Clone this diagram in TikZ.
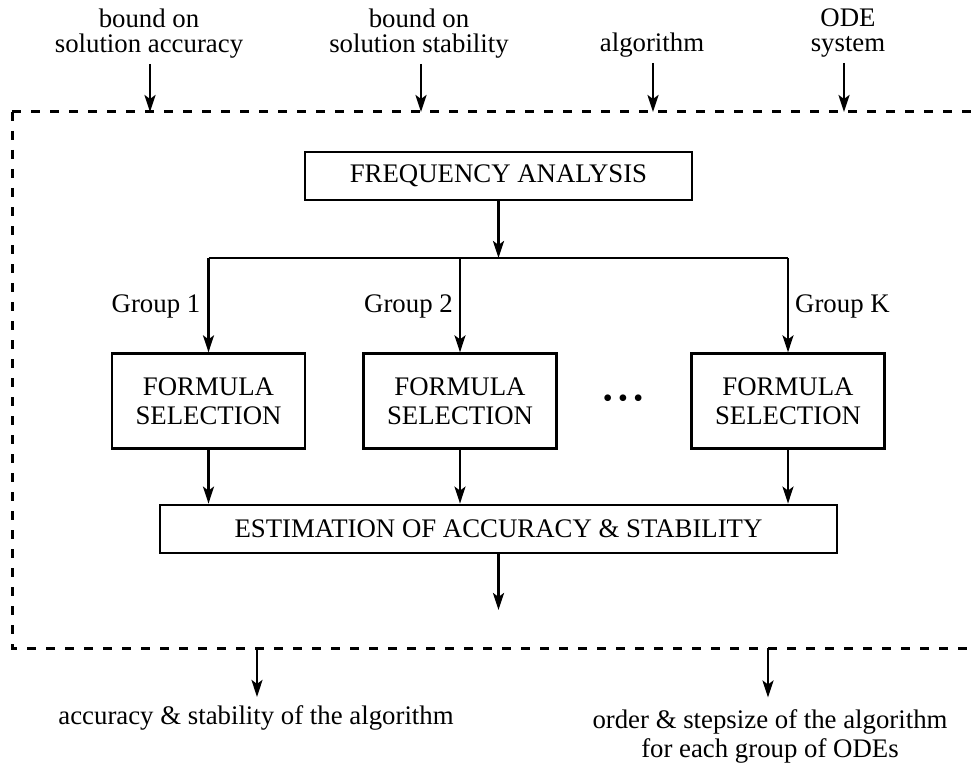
\documentclass[tikz,border=0pt]{standalone}
\usepackage{fontspec}
\setmainfont{Liberation Serif}
\usetikzlibrary{arrows.meta}
\begin{document}
\begin{tikzpicture}[x=1pt,y=-1pt,
  every node/.style={inner sep=0pt, font=\fontsize{26.8}{25}\selectfont},
  box/.style={draw, line width=2.8pt, align=center},
  twoline/.style={align=center, font=\fontsize{26.8}{25}\selectfont},
  arr/.style={line width=2.4pt, -{Stealth[length=17pt,width=11pt,inset=4pt]}},
  wire/.style={line width=2.4pt},
  frame/.style={line width=3pt, dash pattern=on 9pt off 10pt}]
\useasboundingbox (0,0) rectangle (975,765);

% inputs above the frame
\node[twoline, anchor=north] (inAcc) at (149,9) {bound on\\solution accuracy};
\node[twoline, anchor=north] (inStab) at (419,9) {bound on\\solution stability};
\node[anchor=base] (inAlg) at (652,52) {algorithm};
\node[twoline, anchor=north] (inOde) at (848,9) {ODE\\system};

% entry points on the frame
\coordinate (fAcc) at (150,112);
\coordinate (fStab) at (421,112);
\coordinate (fAlg) at (653,112);
\coordinate (fOde) at (844,112);

% dashed system boundary (open on the right)
\draw[frame] (12,112) -- (975,112);
\draw[frame] (12,112) -- (12,648) -- (975,648);

\foreach \src/\dst in {inAcc/fAcc, inStab/fStab, inAlg/fAlg, inOde/fOde}
  \draw[arr, shorten <=5pt] (\src.south -| \dst) -- (\dst);

% frequency analysis and fan-out
\node[box, minimum width=387pt, minimum height=48pt] (freq) at (498.5,176) {FREQUENCY ANALYSIS};

\node[box, minimum width=193pt, minimum height=94.5pt, font=\fontsize{26.8}{29}\selectfont] (fs1) at (208.5,401) {FORMULA\\SELECTION};
\node[box, minimum width=193pt, minimum height=94.5pt, font=\fontsize{26.8}{29}\selectfont] (fs2) at (460,401) {FORMULA\\SELECTION};
\node[box, minimum width=193pt, minimum height=94.5pt, font=\fontsize{26.8}{29}\selectfont] (fsK) at (788,401) {FORMULA\\SELECTION};

\node (dots) at (623,401) {\fontsize{28}{28}\selectfont\textbullet\hspace{5.5pt}\textbullet\hspace{5.5pt}\textbullet};

\coordinate (bus) at (498.5,258);
\draw[arr] (freq.south) -- (bus);
\draw[wire] (fs1.north |- bus) -- (fsK.north |- bus);
\draw[arr] (fs1.north |- bus) -- (fs1.north);
\draw[arr] (fs2.north |- bus) -- (fs2.north);
\draw[arr] (fsK.north |- bus) -- (fsK.north);

\node[anchor=base east] (g1) at ([xshift=-8pt]fs1.north |- 0,312) {Group 1};
\node[anchor=base east] (g2) at ([xshift=-7pt]fs2.north |- 0,312) {Group 2};
\node[anchor=base west] (gK) at ([xshift=7pt]fsK.north |- 0,312) {Group K};

% estimation
\node[box, minimum width=677pt, minimum height=48pt] (est) at (498.5,529) {ESTIMATION OF ACCURACY \& STABILITY};
\foreach \f in {fs1,fs2,fsK}
  \draw[arr] (\f.south) -- (\f.south |- est.north);

\coordinate (estOut) at (498.5,610);
\draw[arr] (est.south) -- (estOut);

% outputs below the frame
\coordinate (oAcc) at (257,648);
\coordinate (oOrd) at (768,648);
\node[anchor=base] (outAcc) at (256,724) {accuracy \& stability of the algorithm};
\node[align=center, anchor=north, font=\fontsize{26.8}{29}\selectfont] (outOrd) at (770,709.5) {order \& stepsize of the algorithm\\for each group of ODEs};

\draw[arr, shorten >=8pt] (oAcc) -- (outAcc.north -| oAcc);
\draw[arr, shorten >=12pt] (oOrd) -- (outOrd.north -| oOrd);
\end{tikzpicture}
\end{document}
